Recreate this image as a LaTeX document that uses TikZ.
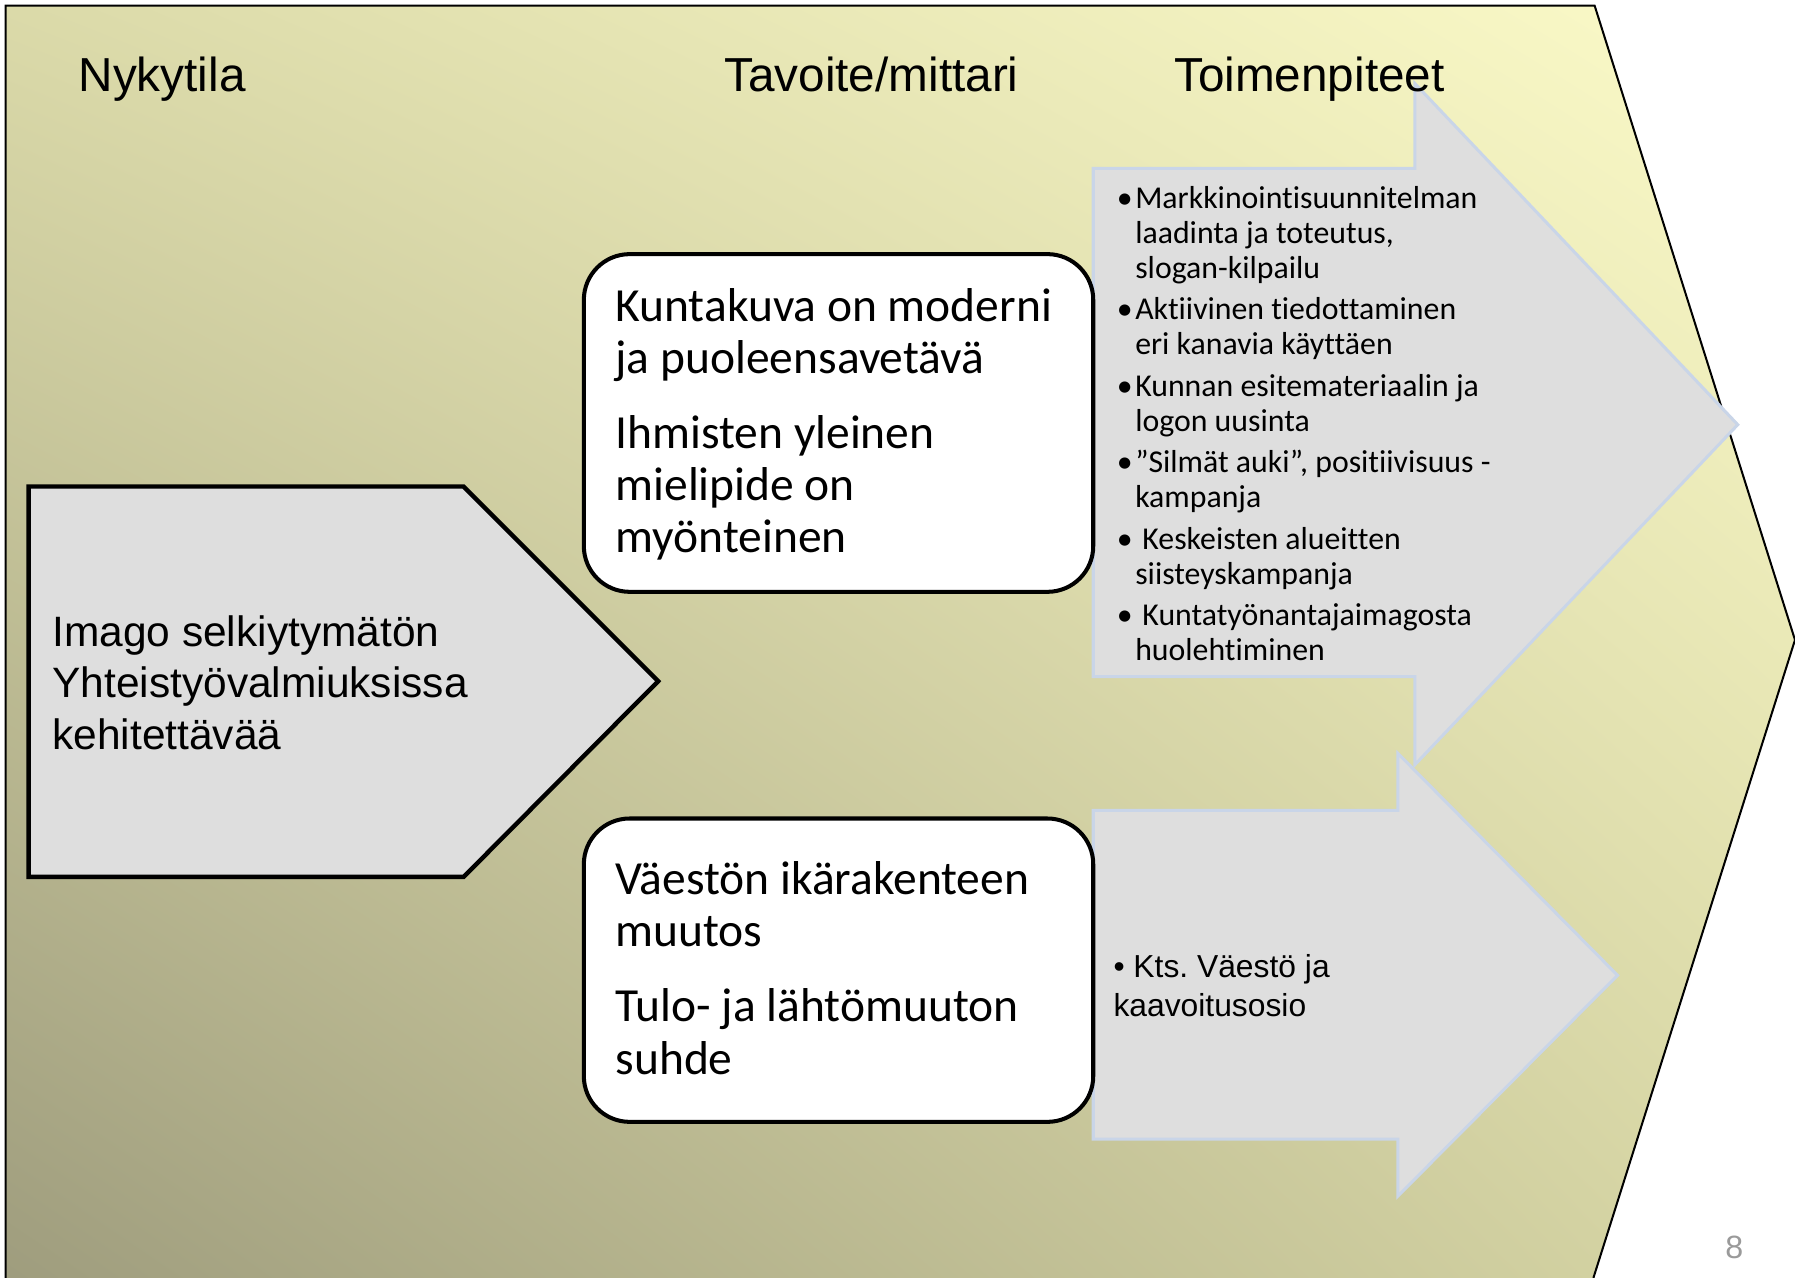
\documentclass[tikz,border=0pt]{standalone}
\usepackage{fontspec}
\setmainfont{Liberation Sans}
\newfontfamily\calibri[Ligatures=NoCommon]{Carlito}
\usepackage{tikz}
\usetikzlibrary{shadings}
\definecolor{tausta1}{HTML}{DBDAA9}
\definecolor{tausta2}{HTML}{FCFBC9}
\definecolor{tausta3}{HTML}{9E9C7D}
\definecolor{tausta4}{HTML}{D8D7A5}
\definecolor{harmaa}{HTML}{DEDEDE}
\definecolor{reunasin}{HTML}{C9D5E8}
\definecolor{sivuharmaa}{HTML}{9A9A9A}
\newcommand\kohta{\makebox[0.16cm][l]{\textbullet}}
\frenchspacing

\begin{document}
\begin{tikzpicture}[x=0.01cm, y=-0.01cm,
  otsikko/.style = {anchor=base west, inner sep=0, font=\fontsize{11.85}{14}\selectfont},
  teksti/.style = {anchor=north west, inner sep=0, align=left},
  laatikko/.style = {draw, line width=1pt, rounded corners=0.4cm, fill=white},
  nuoli/.style = {draw=reunasin, line width=0.75pt, fill=harmaa}]
	\useasboundingbox (0,0) rectangle (1568,1116);
	\clip (0,0) rectangle (1568,1116);
	% tausta
	\shadedraw[line width=0.5pt, upper left=tausta1, upper right=tausta2, lower left=tausta3, lower right=tausta4]
	  (5,5) -- (1393,5) -- (1568,559) -- (1392,1116) -- (1392,1130) -- (5,1130) -- cycle;
	% nykytila
	\draw[line width=1.1pt, fill=harmaa] (25,425) -- (405,425) -- (575,595) -- (405,766) -- (25,766) -- cycle;
	% toimenpiteet
	\draw[nuoli] (955,147) -- (1236,147) -- (1236,73) -- (1518,371) -- (1236,668) -- (1236,591) -- (955,591) -- cycle;
	\draw[nuoli] (955,708) -- (1221,708) -- (1221,658) -- (1413,852) -- (1221,1045) -- (1221,995) -- (955,995) -- cycle;
	% tavoitteet
	\draw[laatikko] (510,222) rectangle (955,517);
	\draw[laatikko] (510,715) rectangle (955,980);
	\node[otsikko] (nykytila) at (68,80) {Nykytila};
	\node[otsikko] (tavoite) at (632,80) {Tavoite/mittari};
	\node[otsikko] (toimenpiteet) at (1025,80) {Toimenpiteet};
	\node[teksti, font=\fontsize{10.55}{12.8}\selectfont] (imago) at (45,537)
	  {Imago selkiytymätön\\ Yhteistyövalmiuksissa\\ kehitettävää};
	\node[teksti, font=\calibri\fontsize{11.8}{13}\selectfont] (kuntakuva) at (537,251)
	  {Kuntakuva on moderni\\ ja puoleensavetävä\\[5.6pt] Ihmisten yleinen\\ mielipide on\\ myönteinen};
	\node[teksti, font=\calibri\fontsize{11.8}{13}\selectfont] (vaesto) at (537,752)
	  {Väestön ikärakenteen\\ muutos\\[5.6pt] Tulo- ja lähtömuuton\\ suhde};
	\node[teksti, font=\calibri\fontsize{7.9}{8.7}\selectfont] (toimet) at (975,162)
	  {\kohta Markkinointisuunnitelman\\ \hspace*{0.16cm}laadinta ja toteutus,\\ \hspace*{0.16cm}slogan-kilpailu\\[1.6pt]
	   \kohta Aktiivinen tiedottaminen\\ \hspace*{0.16cm}eri kanavia käyttäen\\[1.6pt]
	   \kohta Kunnan esitemateriaalin ja\\ \hspace*{0.16cm}logon uusinta\\[1.6pt]
	   \kohta ”Silmät auki”, positiivisuus -\\ \hspace*{0.16cm}kampanja\\[1.6pt]
	   \kohta\ Keskeisten alueitten\\ \hspace*{0.16cm}siisteyskampanja\\[1.6pt]
	   \kohta\ Kuntatyönantajaimagosta\\ \hspace*{0.16cm}huolehtiminen};
	\node[teksti, font=\fontsize{7.9}{9.7}\selectfont] (kts) at (972,833)
	  {\textbullet\ Kts. Väestö ja\\ kaavoitusosio};
	\node[text=sivuharmaa, font=\fontsize{8}{9.6}\selectfont] (sivu) at (1515,1090) {8};
\end{tikzpicture}
\end{document}
